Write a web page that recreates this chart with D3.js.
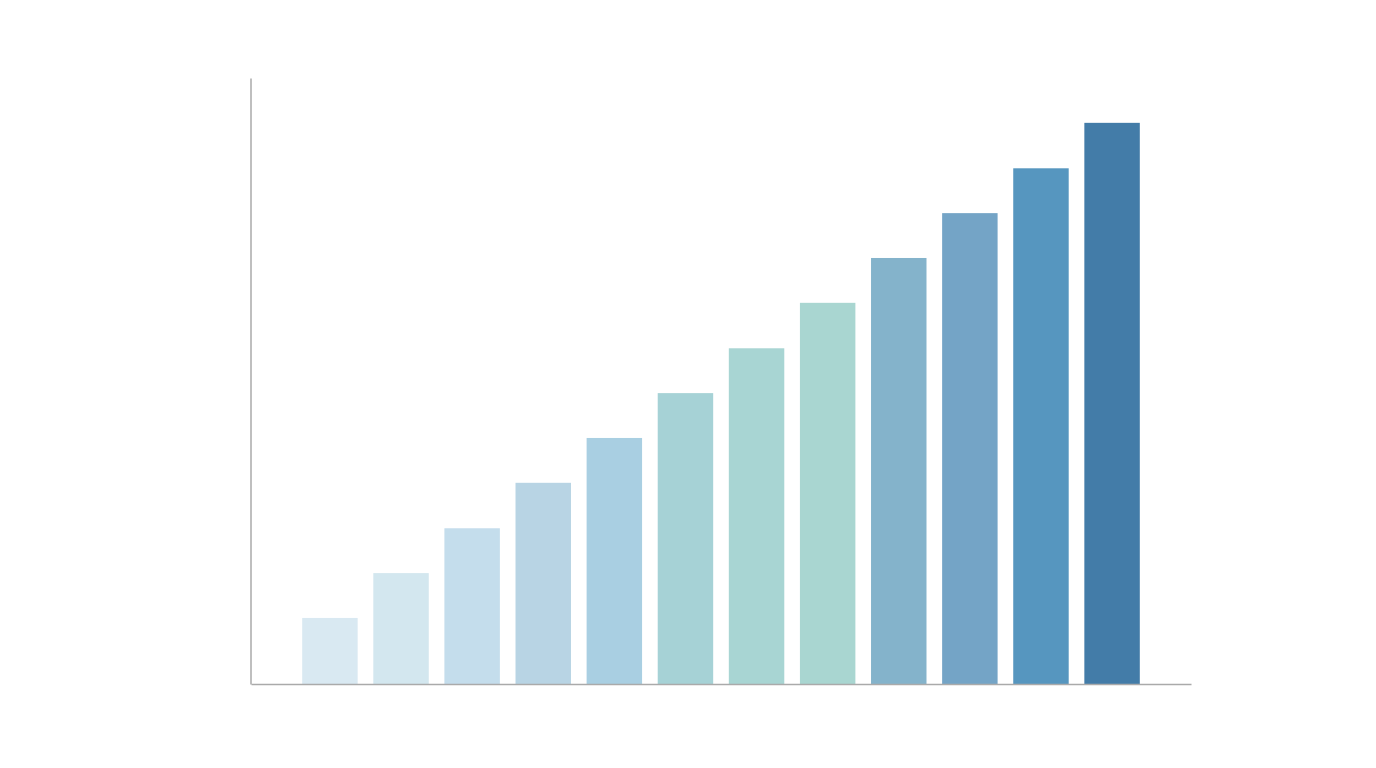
<!DOCTYPE html>
<html>
<head>
<meta charset="utf-8">
<script src="https://cdn.jsdelivr.net/npm/d3@7"></script>
<style>
  body { margin: 0; background: #fff; }
</style>
</head>
<body>
<div id="chart"></div>
<script>
// bar data (axis runs 0..100)
var categories = ["1", "2", "3", "4", "5", "6", "7", "8", "9", "10", "11", "12"];
var values = [10.9, 18.3, 25.7, 33.2, 40.6, 48.0, 55.4, 62.9, 70.3, 77.7, 85.1, 92.6];
var colors = ["#d9e9f2", "#d3e7ef", "#c4ddec", "#b8d4e4", "#a9cfe2", "#a6d2d6",
              "#a8d5d3", "#a9d6d1", "#84b3cb", "#74a4c6", "#5696bf", "#437ca8"];

var width = 1376, height = 768;
var margin = { top: 78, right: 185, bottom: 84, left: 250 };

var svg = d3.select("#chart").append("svg")
  .attr("width", width)
  .attr("height", height);

var x = d3.scaleBand()
  .domain(categories)
  .range([margin.left + 1, width - margin.right])
  .paddingInner(0.22)
  .paddingOuter(0.72);

var y = d3.scaleLinear()
  .domain([0, 100])
  .range([height - margin.bottom, margin.top]);

svg.selectAll("rect.bar")
  .data(values)
  .enter().append("rect")
  .attr("class", "bar")
  .attr("x", function(d, i) { return x(categories[i]); })
  .attr("y", function(d) { return y(d); })
  .attr("width", x.bandwidth())
  .attr("height", function(d) { return y(0) - y(d); })
  .attr("fill", function(d, i) { return colors[i]; });

// plain axes, no ticks or labels
svg.append("g")
  .attr("transform", "translate(0," + y(0) + ")")
  .call(d3.axisBottom(x).tickSize(0).tickFormat(""))
  .call(function(g) { g.select(".domain").attr("stroke", "#aaa").attr("stroke-width", 1.5); });

svg.append("g")
  .attr("transform", "translate(" + (margin.left + 0.5) + ",0)")
  .call(d3.axisLeft(y).tickSize(0).tickFormat(""))
  .call(function(g) { g.select(".domain").attr("stroke", "#aaa").attr("stroke-width", 1.5); });
</script>
</body>
</html>
